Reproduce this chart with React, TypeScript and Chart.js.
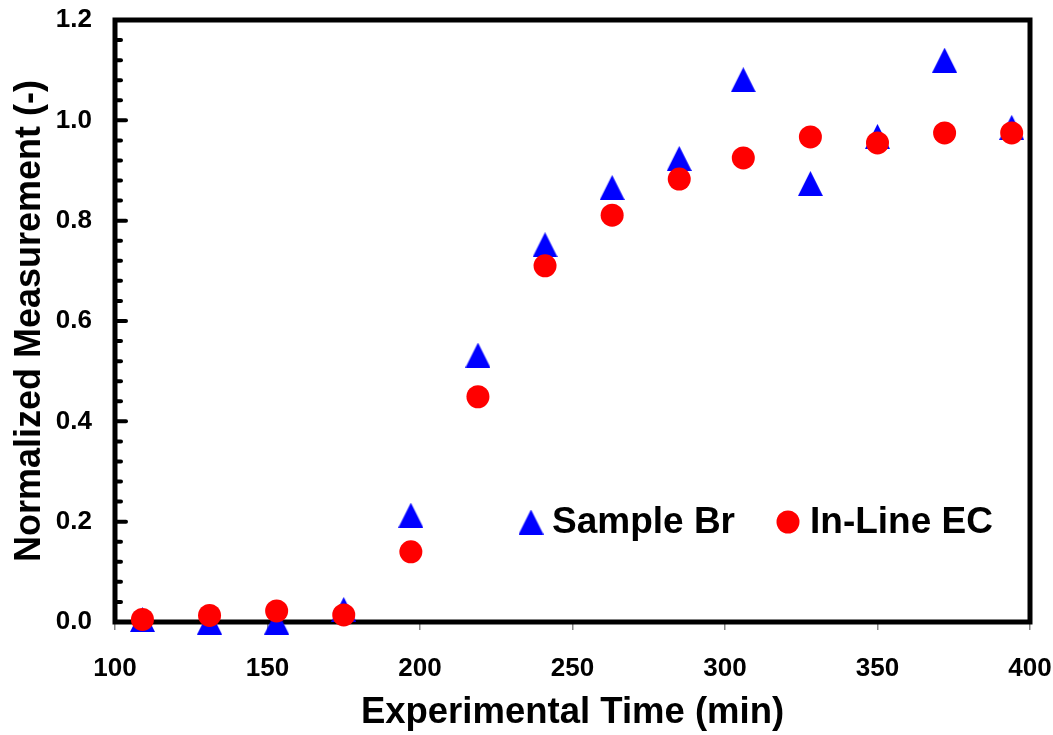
import React, { useEffect, useRef } from "react";
import { Chart, registerables } from "chart.js";

Chart.register(...registerables);

const timeMin = [109, 131, 153, 175, 197, 219, 241, 263, 285, 306, 328, 350, 372, 394];
const sampleBr = [0.005, 0.0, 0.0, 0.025, 0.213, 0.532, 0.752, 0.866, 0.924, 1.081, 0.874, 0.968, 1.12, 0.986];
const inLineEC = [0.005, 0.013, 0.022, 0.014, 0.14, 0.449, 0.71, 0.811, 0.883, 0.925, 0.967, 0.955, 0.975, 0.975];
const xTicks = [100, 150, 200, 250, 300, 350, 400];
const yMajorTicks = [0, 0.2, 0.4, 0.6, 0.8, 1.0, 1.2];
const yMinorStep = 0.04;

const FONT = "'Liberation Sans', Arial, sans-serif";
const BLUE = "#0000FF";
const RED = "#FF0000";

let triangleCache: HTMLCanvasElement | null = null;
function getTriangle(): HTMLCanvasElement {
  if (triangleCache) return triangleCache;
  const c = document.createElement("canvas");
  const w = 25;
  const h = 25;
  c.width = w;
  c.height = h;
  const g = c.getContext("2d")!;
  g.fillStyle = BLUE;
  g.beginPath();
  g.moveTo(w / 2, 0);
  g.lineTo(w, h);
  g.lineTo(0, h);
  g.closePath();
  g.fill();
  triangleCache = c;
  return c;
}

const framePlugin = {
  id: "frameAndTicks",
  beforeDatasetsDraw(chart: any) {
    const { ctx, chartArea } = chart;
    const ys = chart.scales.y;
    ctx.save();
    ctx.strokeStyle = "#000";
    ctx.lineWidth = 4;
    ctx.lineCap = "round";
    const n = Math.round(1.2 / yMinorStep);
    for (let i = 1; i < n; i++) {
      const v = i * yMinorStep;
      const isMajor = yMajorTicks.some((m) => Math.abs(m - v) < 1e-6);
      const py = ys.getPixelForValue(v);
      ctx.beginPath();
      ctx.moveTo(chartArea.left, py);
      ctx.lineTo(chartArea.left + (isMajor ? 11 : 6), py);
      ctx.stroke();
    }
    ctx.lineCap = "square";
    ctx.lineWidth = 5;
    ctx.strokeRect(chartArea.left, chartArea.top, chartArea.right - chartArea.left, chartArea.bottom - chartArea.top);

    // legend (inside the plot area)
    const ly = chartArea.top + 502;
    const tx = chartArea.left + 416;
    const cx = chartArea.left + 673;
    const tri = getTriangle();
    ctx.drawImage(tri, tx - tri.width / 2, ly - tri.height / 2);
    ctx.fillStyle = RED;
    ctx.beginPath();
    ctx.arc(cx, ly, 11.5, 0, Math.PI * 2);
    ctx.fill();
    ctx.fillStyle = "#000";
    ctx.font = `bold 37px ${FONT}`;
    ctx.textBaseline = "middle";
    ctx.textAlign = "left";
    ctx.fillText("Sample Br", tx + 21, ly + 1);
    ctx.fillText("In-Line EC", cx + 22, ly + 1);
    ctx.restore();
  },
};

export default function App() {
  const ref = useRef<HTMLCanvasElement | null>(null);
  useEffect(() => {
    if (!ref.current) return;
    const chart: any = new Chart(ref.current, {
      type: "scatter",
      data: {
        datasets: [
          {
            label: "In-Line EC",
            data: timeMin.map((x, i) => ({ x, y: inLineEC[i] })),
            pointStyle: "circle",
            pointRadius: 11.5,
            pointHoverRadius: 11.5,
            backgroundColor: RED,
            borderColor: RED,
            borderWidth: 0,
            clip: false,
          },
          {
            label: "Sample Br",
            data: timeMin.map((x, i) => ({ x, y: sampleBr[i] })),
            pointStyle: getTriangle(),
            pointRadius: 13,
            pointHoverRadius: 13,
            backgroundColor: BLUE,
            borderColor: BLUE,
            borderWidth: 0,
            clip: false,
          },
        ],
      },
      options: {
        animation: false,
        responsive: false,
        maintainAspectRatio: false,
        layout: { padding: { left: 0, right: 23, top: 20, bottom: 0 } },
        plugins: { legend: { display: false }, tooltip: { enabled: false } },
        scales: {
          x: {
            type: "linear",
            min: 100,
            max: 400,
            afterBuildTicks: (s: any) => {
              s.ticks = xTicks.map((v) => ({ value: v }));
            },
            afterFit: (s: any) => {
              s.height = 113;
              s.paddingLeft = 0;
              s.paddingRight = 0;
            },
            grid: { drawOnChartArea: false, drawTicks: true, tickLength: 8, color: "#888", lineWidth: 1.5 },
            border: { display: false },
            ticks: {
              color: "#000",
              padding: 23,
              font: { family: FONT, size: 26, weight: "bold" },
              maxRotation: 0,
            },
            title: {
              display: true,
              text: "Experimental Time (min)",
              color: "#000",
              font: { family: FONT, size: 36.5, weight: "bold" },
              padding: { top: 0, bottom: 0 },
            },
          },
          y: {
            type: "linear",
            min: 0,
            max: 1.2,
            afterBuildTicks: (s: any) => {
              s.ticks = yMajorTicks.map((v) => ({ value: v }));
            },
            afterFit: (s: any) => {
              s.width = 115;
              s.paddingTop = 0;
              s.paddingBottom = 0;
            },
            grid: { display: false, drawTicks: false },
            border: { display: false },
            ticks: {
              color: "#000",
              padding: 23,
              font: { family: FONT, size: 26, weight: "bold" },
              callback: (v: any) => Number(v).toFixed(1),
            },
            title: {
              display: true,
              text: "Normalized Measurement (-)",
              color: "#000",
              font: { family: FONT, size: 36, weight: "bold" },
              padding: { top: 8, bottom: 0 },
            },
          },
        },
      },
      plugins: [framePlugin],
    });
    return () => chart.destroy();
  }, []);
  return (
    <div style={{ position: "absolute", left: 0, top: 0, width: 1053, height: 735, background: "#fff" }}>
      <canvas ref={ref} width={1053} height={735} style={{ display: "block" }} />
    </div>
  );
}
